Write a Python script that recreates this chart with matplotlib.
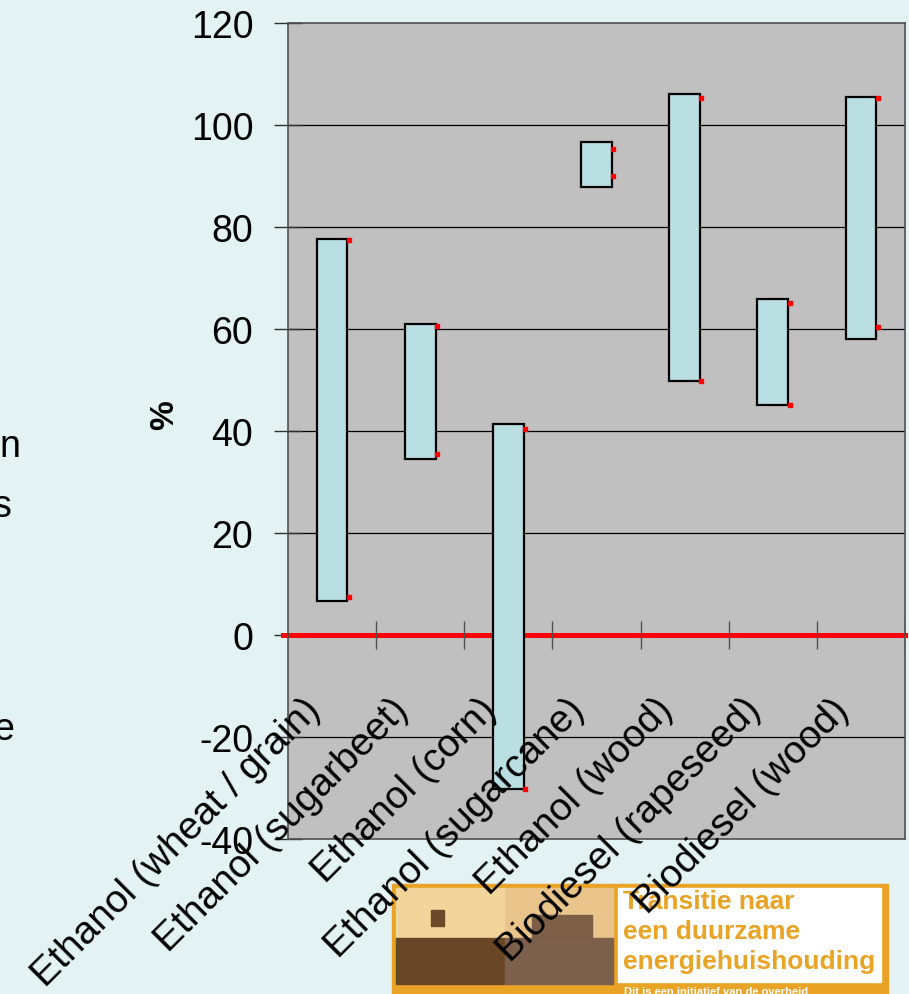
import matplotlib.pyplot as plt
from matplotlib.patches import Rectangle
import numpy as np

plt.rcParams['font.family'] = ['Liberation Sans', 'DejaVu Sans']

categories = ["Ethanol (wheat / grain)", "Ethanol (sugarbeet)", "Ethanol (corn)",
              "Ethanol (sugarcane)", "Ethanol (wood)", "Biodiesel (rapeseed)",
              "Biodiesel (wood)"]
low = [6.7, 34.5, -30.2, 87.8, 49.8, 45.1, 58.0]
high = [77.6, 61.0, 41.4, 96.7, 106.0, 65.9, 105.5]
# small hi/lo markers that sit at the bar edges
mark_hi = [77.5, 60.6, 40.4, 95.3, 105.3, 65.1, 105.3]
mark_lo = [7.5, 35.5, -30.2, 90.0, 49.8, 45.1, 60.4]
yticks = [-40, -20, 0, 20, 40, 60, 80, 100, 120]

bg = "#e3f3f3"
W, H = 909, 995
fig = plt.figure(figsize=(W / 100, H / 100), dpi=100, facecolor=bg)

# logo layer (pixel coordinates), sits under the chart texts
lay = fig.add_axes([0, 0, 1, 1], zorder=0)
lay.set_xlim(0, W)
lay.set_ylim(H, 0)
lay.axis("off")
orange = "#e9a325"
lay.add_patch(Rectangle((392, 885), 496, 115, color=orange))
lay.add_patch(Rectangle((396, 889), 109, 50, color="#f3d49a"))
lay.add_patch(Rectangle((505, 889), 108, 50, color="#e9c58c"))
lay.add_patch(Rectangle((396, 939), 109, 46, color="#694626"))
lay.add_patch(Rectangle((505, 939), 108, 46, color="#7c604c"))
lay.add_patch(Rectangle((431, 911), 13, 16, color="#6b4a2a"))
lay.add_patch(Rectangle((532, 916), 60, 22, color="#7d5f48"))
lay.add_patch(Rectangle((618, 889), 263, 94, color="white"))
for txt, yy in zip(["Transitie naar", "een duurzame", "energiehuishouding"],
                   [902, 932, 962]):
    lay.text(623, yy, txt, color=orange, fontsize=19, fontweight="bold",
             va="center", ha="left")
lay.text(624, 992, "Dit is een initiatief van de overheid", color="white",
         fontsize=8, fontweight="bold", va="center", ha="left")

# cut-off words on the left margin
fig.text(20 / W, 1 - 447 / H, "n", fontsize=27, ha="right", va="center")
fig.text(12 / W, 1 - 507 / H, "s", fontsize=27, ha="right", va="center")
fig.text(14 / W, 1 - 730 / H, "e", fontsize=27, ha="right", va="center")

ax = fig.add_axes([288 / W, 1 - 840 / H, (905 - 288) / W, (840 - 24) / H], zorder=1)
ax.set_facecolor("#c0c0c0")
x = np.arange(len(categories))
ax.set_xlim(-0.5, len(categories) - 0.5)
ax.set_ylim(-40, 120)

for yv in yticks[1:-1]:
    if yv != 0:
        ax.axhline(yv, color="black", lw=0.9, zorder=1)

ax.axhline(0, xmin=-0.008, xmax=1, color="#ff0000", lw=3.6, zorder=2, clip_on=False)
ax.vlines(np.arange(len(categories)) + 0.5, -2.7, 2.7, color="#505050", lw=1, zorder=3)

ax.bar(x, np.array(high) - np.array(low), bottom=low, width=0.35,
       color="#b9dfe3", edgecolor="black", lw=1.6, zorder=4)
ax.plot(x + 0.19, mark_hi, ls="none", marker="s", ms=2.5, color="red", zorder=5)
ax.plot(x + 0.19, mark_lo, ls="none", marker="s", ms=2.5, color="red", zorder=5)

ax.set_yticks(yticks)
ax.set_yticklabels([str(v) for v in yticks])
ax.tick_params(axis="y", direction="inout", length=20, width=1, color="#303030",
               labelsize=27, pad=15)
ax.set_xticks([])
for s in ax.spines.values():
    s.set_color("#505050")
    s.set_linewidth(1.2)

for i, lab in enumerate(categories):
    ax.text(i - 0.2, -13.5, lab, rotation=45, rotation_mode="anchor",
            ha="right", va="center", fontsize=28, zorder=6, clip_on=False)

ax.set_ylabel("%", fontsize=24, fontweight="bold")
ax.yaxis.set_label_coords(-0.175, 0.521)

fig.savefig("out.png", dpi=100, facecolor=bg)
